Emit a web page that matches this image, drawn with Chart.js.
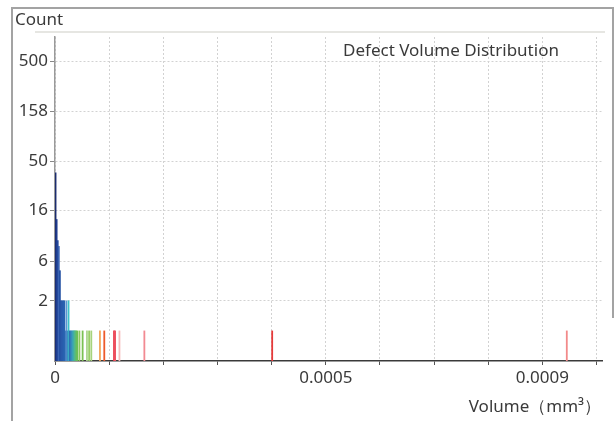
<!DOCTYPE html>
<html>
<head>
<meta charset="utf-8">
<script src="https://cdn.jsdelivr.net/npm/chart.js@4.4.1/dist/chart.umd.min.js"></script>
<style>
  html, body { margin: 0; padding: 0; background: #fff; }
</style>
</head>
<body>
<canvas id="myChart" width="616" height="421"></canvas>
<script>
// histogram bins: centre volume (mm³) and count
const volumes = [
  0.000001, 0.000003, 0.000005, 0.000007, 0.000009, 0.000011, 0.000013,
  0.000015, 0.000017, 0.000019, 0.000021, 0.000023, 0.000025, 0.000027,
  0.000029, 0.000031, 0.000033, 0.000035, 0.000037, 0.000039, 0.000041,
  0.000045, 0.000051, 0.000059, 0.000063, 0.000067, 0.000083, 0.000091,
  0.000109, 0.000111, 0.000119, 0.000165, 0.000401, 0.000945
];
const counts = [
  38, 13, 8, 7, 4, 2, 2,
  2, 2, 1, 2, 1, 2, 1,
  1, 1, 1, 1, 1, 1, 1,
  1, 1, 1, 1, 1, 1, 1,
  1, 1, 1, 1, 1, 1
];
const barColors = [
  "#1b2c6e", "#1f3b8c", "#22479b", "#3a63b2", "#2450a3", "#2453a5", "#2657a9",
  "#275cac", "#2a62b0", "#2c66b2", "#5f95d2", "#3478bb", "#3ec0c9", "#2f6fb5",
  "#337fb9", "#3690ba", "#3aa1b5", "#41afa2", "#4fb787", "#5dbb6d", "#6cbf55",
  "#8bc85d", "#7bc152", "#acd78c", "#98cd66", "#a7d37c", "#f2a65a", "#ee5a2a",
  "#ea3a4a", "#ee5262", "#f6bcbc", "#f28a92", "#e53a3a", "#f28a8a"
];

const yTickValues = [2, 5, 16, 50, 158, 500];
const yTickLabels = ["2", "6", "16", "50", "158", "500"];
const xTickValues = [0, 0.0001, 0.0002, 0.0003, 0.0004, 0.0005, 0.0006, 0.0007, 0.0008, 0.0009, 0.001];
const xTickLabels = ["0", "", "", "", "", "0.0005", "", "", "", "0.0009", ""];

const chartTitle = "Defect Volume Distribution";
const xTitle = "Volume（mm³）";
const yTitle = "Count";

const FONT = "'Noto Sans', sans-serif";
const textColor = "#3a3a3a";

const decor = {
  id: "decor",
  beforeDraw(chart) {
    const ctx = chart.ctx;
    ctx.save();
    ctx.strokeStyle = "#a3a3a3";
    ctx.lineWidth = 2;
    ctx.beginPath();
    ctx.moveTo(12, 421);
    ctx.lineTo(12, 8);
    ctx.lineTo(613, 8);
    ctx.lineTo(613, 318);
    ctx.stroke();
    ctx.strokeStyle = "#e6e6e2";
    ctx.beginPath();
    ctx.moveTo(35, 32);
    ctx.lineTo(605, 32);
    ctx.stroke();
    ctx.restore();
  },
  afterDraw(chart) {
    const ctx = chart.ctx;
    ctx.save();
    ctx.fillStyle = textColor;
    ctx.font = "17px " + FONT;
    ctx.textBaseline = "middle";
    ctx.textAlign = "left";
    ctx.fillText(yTitle, 15, 20);
    ctx.textAlign = "center";
    ctx.fillText(chartTitle, 451, 51);
    ctx.textAlign = "right";
    ctx.fillText(xTitle, 601, 407);
    ctx.restore();
  }
};

new Chart(document.querySelector("#myChart"), {
  type: "bar",
  data: {
    datasets: [
      {
        data: volumes.map((v, i) => ({ x: v, y: counts[i] })),
        backgroundColor: barColors,
        borderWidth: 0,
        barThickness: 1.15,
      },
    ],
  },
  options: {
    responsive: false,
    animation: false,
    layout: { padding: { top: 37, right: 14, left: 0, bottom: 0 } },
    plugins: { legend: { display: false }, tooltip: { enabled: false } },
    scales: {
      x: {
        type: "linear",
        min: 0,
        max: 0.00101,
        offset: false,
        afterBuildTicks: (scale) => {
          scale.ticks = xTickValues.map((v) => ({ value: v }));
        },
        afterFit: (scale) => {
          scale.height = 60;
        },
        ticks: {
          autoSkip: false,
          maxRotation: 0,
          color: textColor,
          font: { family: FONT, size: 17 },
          padding: 3,
          callback: (v, i) => xTickLabels[i],
        },
        grid: {
          offset: false,
          color: "#d2d2d2",
          tickColor: "#555",
          tickLength: 4,
        },
        border: { color: "#3a3a3a", width: 1.5, dash: [2, 2] },
      },
      y: {
        type: "logarithmic",
        min: 0.5,
        max: 869,
        afterBuildTicks: (scale) => {
          scale.ticks = yTickValues.map((v) => ({ value: v }));
        },
        afterFit: (scale) => {
          scale.width = 55;
        },
        ticks: {
          autoSkip: false,
          color: textColor,
          font: { family: FONT, size: 17 },
          padding: 2,
          callback: (v, i) => yTickLabels[i],
        },
        grid: {
          color: "#d2d2d2",
          tickColor: "#888",
          tickLength: 5,
        },
        border: { color: "#9a9a9a", width: 1.5, dash: [2, 2] },
      },
    },
  },
  plugins: [decor],
});
</script>
</body>
</html>
